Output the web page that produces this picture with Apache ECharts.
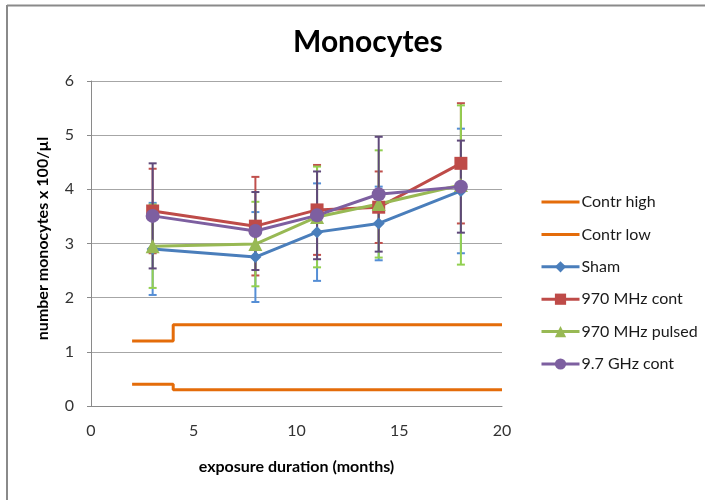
<!DOCTYPE html>
<html>
<head>
<meta charset="utf-8">
<script src="https://cdn.jsdelivr.net/npm/echarts@6/dist/echarts.min.js"></script>
<style>
  html, body { margin: 0; padding: 0; background: #fff; }
  #chart { width: 705px; height: 500px; }
</style>
</head>
<body>
<div id="chart"></div>
<script>
// Exposure duration (months) at which each group was sampled
var months = [3, 8, 11, 14, 18];

// Mean monocyte counts (x 100/µl) and their error half-widths
var sham        = [2.90, 2.75, 3.21, 3.37, 3.97];
var shamErr     = [0.85, 0.83, 0.90, 0.68, 1.15];
var mhzCont     = [3.60, 3.32, 3.62, 3.67, 4.48];
var mhzContErr  = [0.78, 0.91, 0.83, 0.66, 1.11];
var mhzPulsed   = [2.95, 2.99, 3.49, 3.73, 4.08];
var mhzPulsedErr= [0.77, 0.78, 0.93, 0.99, 1.47];
var ghzCont     = [3.51, 3.23, 3.52, 3.91, 4.05];
var ghzContErr  = [0.97, 0.72, 0.81, 1.06, 0.85];

// Control reference range (step at 4 months)
var contrX    = [2, 4, 20];
var contrHigh = [1.2, 1.5, 1.5];
var contrLow  = [0.4, 0.3, 0.3];

var legendNames = ['Contr high', 'Contr low', 'Sham', '970 MHz cont', '970 MHz pulsed', '9.7 GHz cont'];

var FONT = 'Lato';

function pairs(xs, ys) {
  return xs.map(function (x, i) { return [x, ys[i]]; });
}

// Vertical error bars with caps, drawn through the axis scales
function errorSeries(name, means, errs, color) {
  var data = months.map(function (m, i) { return [m, means[i] - errs[i], means[i] + errs[i]]; });
  return {
    type: 'custom',
    name: name + ' err',
    z: 1,
    silent: true,
    data: data,
    encode: { x: 0, y: [1, 2] },
    renderItem: function (params, api) {
      var lo = api.coord([api.value(0), api.value(1)]);
      var hi = api.coord([api.value(0), api.value(2)]);
      var w = 4;
      var style = { stroke: color, lineWidth: 2 };
      return {
        type: 'group',
        children: [
          { type: 'line', shape: { x1: lo[0], y1: lo[1], x2: hi[0], y2: hi[1] }, style: style },
          { type: 'line', shape: { x1: lo[0] - w, y1: lo[1], x2: lo[0] + w, y2: lo[1] }, style: style },
          { type: 'line', shape: { x1: hi[0] - w, y1: hi[1], x2: hi[0] + w, y2: hi[1] }, style: style }
        ]
      };
    }
  };
}

function lineSeries(name, values, color, symbol, size) {
  return {
    type: 'line',
    name: name,
    z: 3,
    data: pairs(months, values),
    symbol: symbol,
    symbolSize: size,
    showAllSymbol: true,
    lineStyle: { color: color, width: 3 },
    itemStyle: { color: color },
    emphasis: { disabled: true }
  };
}

function contrSeries(name, values) {
  return {
    type: 'line',
    name: name,
    z: 2,
    step: 'end',
    data: pairs(contrX, values),
    symbol: 'none',
    lineStyle: { color: '#E46C0A', width: 3 },
    itemStyle: { color: '#E46C0A' }
  };
}

var chart = echarts.init(document.getElementById('chart'), null, { renderer: 'canvas' });

chart.setOption({
  animation: false,
  backgroundColor: '#ffffff',
  textStyle: { fontFamily: FONT },
  title: {
    text: 'Monocytes',
    left: 288,
    top: 22,
    textStyle: { fontFamily: FONT, fontWeight: 'bold', fontSize: 30, color: '#000' }
  },
  graphic: [
    { type: 'line', shape: { x1: 7, y1: 5.5, x2: 705, y2: 5.5 }, style: { stroke: '#8a8a8a', lineWidth: 2 } },
    { type: 'line', shape: { x1: 7, y1: 5, x2: 7, y2: 500 }, style: { stroke: '#8a8a8a', lineWidth: 2 } }
  ],
  legend: {
    data: legendNames.map(function (n, i) {
      // the two control ranges are plain lines in the key
      return i < 2 ? { name: n, itemStyle: { opacity: 0 } } : { name: n };
    }),
    orient: 'vertical',
    left: 535,
    top: 189,
    itemWidth: 38,
    itemHeight: 14,
    itemGap: 16.4,
    lineStyle: { width: 3 },
    textStyle: { fontFamily: FONT, fontSize: 16, color: '#1a1a1a', padding: [0, 0, 0, -3] }
  },
  grid: { left: 91, right: 203, top: 81, bottom: 94, containLabel: false },
  xAxis: {
    type: 'value',
    min: 0, max: 20, interval: 5,
    name: 'exposure duration (months)',
    nameLocation: 'middle',
    nameGap: 53,
    nameTextStyle: { fontFamily: FONT, fontWeight: 'bold', fontSize: 16, color: '#000' },
    axisLine: { lineStyle: { color: '#8a8a8a', width: 1 } },
    axisTick: { show: false },
    axisLabel: { fontFamily: FONT, fontSize: 16, color: '#333', margin: 17 },
    splitLine: { show: false }
  },
  yAxis: {
    type: 'value',
    min: 0, max: 6, interval: 1,
    name: 'number monocytes x 100/µl',
    nameLocation: 'middle',
    nameGap: 40,
    nameTextStyle: { fontFamily: FONT, fontWeight: 'bold', fontSize: 16, color: '#000', padding: [0, 0, 0, 10] },
    axisLine: { show: true, lineStyle: { color: '#8a8a8a', width: 1 } },
    axisTick: { show: true, length: 4, lineStyle: { color: '#8a8a8a' } },
    axisLabel: { fontFamily: FONT, fontSize: 16, color: '#333', margin: 17 },
    splitLine: { show: true, lineStyle: { color: '#a6a6a6', width: 1 } }
  },
  series: [
    contrSeries('Contr high', contrHigh),
    contrSeries('Contr low', contrLow),
    errorSeries('Sham', sham, shamErr, '#558ED5'),
    errorSeries('970 MHz cont', mhzCont, mhzContErr, '#C0504D'),
    errorSeries('970 MHz pulsed', mhzPulsed, mhzPulsedErr, '#92D050'),
    errorSeries('9.7 GHz cont', ghzCont, ghzContErr, '#5F497A'),
    lineSeries('Sham', sham, '#4A7EBB', 'diamond', 12),
    lineSeries('970 MHz cont', mhzCont, '#BE4B48', 'rect', 13),
    lineSeries('970 MHz pulsed', mhzPulsed, '#98B954', 'triangle', 14),
    lineSeries('9.7 GHz cont', ghzCont, '#7D5FA0', 'circle', 14)
  ]
});
</script>
</body>
</html>
